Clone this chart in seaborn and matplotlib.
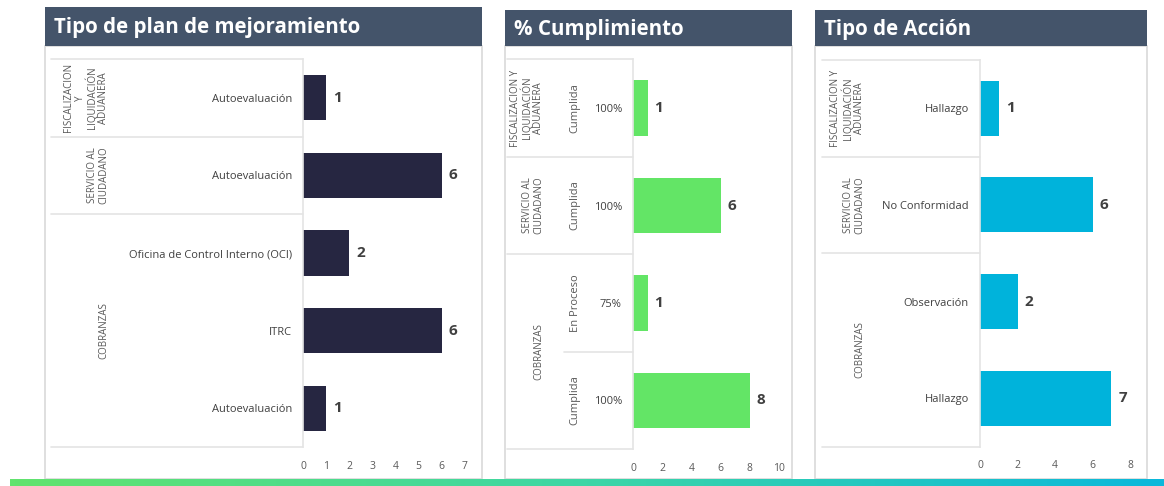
import numpy as np
import pandas as pd
import matplotlib
matplotlib.use("Agg")
import matplotlib.pyplot as plt
import seaborn as sns
from matplotlib.transforms import blended_transform_factory
from matplotlib.patches import Rectangle
from matplotlib.colors import LinearSegmentedColormap

# ---------------- data ----------------
FISC = "FISCALIZACION\nY\nLIQUIDACIÓN\nADUANERA"
FISC2 = "FISCALIZACION Y\nLIQUIDACIÓN\nADUANERA"
SERV = "SERVICIO AL\nCIUDADANO"
COBR = "COBRANZAS"

plan_groups = [FISC, SERV, COBR, COBR, COBR]
plan_cats = ["Autoevaluación", "Autoevaluación", "Oficina de Control Interno (OCI)", "ITRC", "Autoevaluación"]
plan_vals = [1, 6, 2, 6, 1]

cump_groups = [FISC2, SERV, COBR, COBR]
cump_estado = ["Cumplida", "Cumplida", "En Proceso", "Cumplida"]
cump_pct = ["100%", "100%", "75%", "100%"]
cump_vals = [1, 6, 1, 8]

acc_groups = [FISC2, SERV, COBR, COBR]
acc_cats = ["Hallazgo", "No Conformidad", "Observación", "Hallazgo"]
acc_vals = [1, 6, 2, 7]

titles = ["Tipo de plan de mejoramiento", "% Cumplimiento", "Tipo de Acción"]

# ---------------- style ----------------
W, H = 1164, 486
sns.set_theme(style="white")
plt.rcParams["font.family"] = ["Open Sans", "DejaVu Sans"]

HEADER = "#44546A"
BORDER = "#D9D9D9"
GRID = "#E4E4E4"
TXT = "#404040"
TXT2 = "#595959"

fig = plt.figure(figsize=(W / 100, H / 100), dpi=100)
fig.patch.set_facecolor("white")
bg = fig.add_axes([0, 0, 1, 1])
bg.set_xlim(0, W)
bg.set_ylim(H, 0)
bg.axis("off")


def px_axes(l, t, r, b):
    return fig.add_axes([l / W, 1 - b / H, (r - l) / W, (b - t) / H])


# cards
cards = [(45, 482, 7), (505, 792, 10), (815, 1147, 10)]
for (x0, x1, yt), title in zip(cards, titles):
    bg.add_patch(Rectangle((x0, 46), x1 - x0, 479 - 46, facecolor="white",
                           edgecolor=BORDER, lw=1.2))
    bg.add_patch(Rectangle((x0, yt), x1 - x0, 46 - yt, facecolor=HEADER,
                           edgecolor="none"))
    bg.text(x0 + 9, (yt + 46) / 2 + 1, title, color="white", fontsize=14.8,
            fontweight="bold", family=["Open Sans", "DejaVu Sans"],
            ha="left", va="center")

# bottom gradient strip
cmap = LinearSegmentedColormap.from_list("g", ["#62E36E", "#3DD6A6", "#0BB8DB"])
grad = np.linspace(0, 1, 256)[None, :]
bg.imshow(grad, extent=(10, W, 486, 479), aspect="auto", cmap=cmap, zorder=1)
bg.set_xlim(0, W)
bg.set_ylim(H, 0)


def panel(box, ticklabels, vals, color, xmax, xticks, width, table_left,
          groups, group_x, extra=None):
    l, t, r, b = box
    ax = px_axes(l, t, r, b)
    ax.set_facecolor("none")
    n = len(vals)
    df = pd.DataFrame({"pos": [str(i) for i in range(n)], "val": vals})
    sns.barplot(data=df, x="val", y="pos", order=list(df["pos"]), orient="h",
                color=color, saturation=1, width=width, linewidth=0, ax=ax)
    ax.set_xlim(0, xmax)
    ax.set_ylim(n - 0.5, -0.5)
    ax.set_xticks(xticks)
    ax.set_xticklabels([str(v) for v in xticks])
    ax.set_yticks(range(n))
    ax.set_yticklabels(ticklabels)
    ax.set_xlabel("")
    ax.set_ylabel("")
    ax.tick_params(axis="x", length=0, pad=10, labelsize=7.5, labelcolor=TXT2)
    ax.tick_params(axis="y", length=0, pad=8, labelsize=8, labelcolor=TXT)
    for s in ["top", "right", "bottom"]:
        ax.spines[s].set_visible(False)
    ax.spines["left"].set_color(GRID)
    ax.spines["left"].set_linewidth(1.2)
    for c in ax.containers:
        ax.bar_label(c, padding=5, fontsize=11, fontweight="bold", color=TXT,
                     family=["Open Sans", "DejaVu Sans"])

    trans = blended_transform_factory(bg.transData, ax.transData)
    bounds = [-0.5, n - 0.5]
    for i in range(1, n):
        if groups[i] != groups[i - 1]:
            bounds.append(i - 0.5)
    for yb in bounds:
        ax.plot([table_left, l], [yb, yb], transform=trans, clip_on=False,
                color=GRID, lw=1.2)
    start = 0
    for i in range(1, n + 1):
        if i == n or groups[i] != groups[start]:
            yc = (start + i - 1) / 2
            ax.text(group_x, yc, groups[start], transform=trans, rotation=90,
                    ha="right", va="center", ma="center", fontsize=7,
                    color=TXT2, linespacing=1.0)
            start = i
    if extra is not None:
        ex_labels, ex_x, ex_line_left = extra
        for i, lab in enumerate(ex_labels):
            ax.text(ex_x, i, lab, transform=trans, rotation=90, ha="center",
                    va="center", fontsize=8, color=TXT2)
        for i in range(1, n):
            if groups[i] == groups[i - 1]:
                ax.plot([ex_line_left, l], [i - 0.5, i - 0.5], transform=trans,
                        clip_on=False, color=GRID, lw=1.2)
    return ax


panel((303, 59, 465, 447), plan_cats, plan_vals, "#262641", 7, list(range(8)),
      0.58, 51, plan_groups, 109)
panel((633, 59.5, 779, 449), cump_pct, cump_vals, "#63E566", 10,
      [0, 2, 4, 6, 8, 10], 0.57, 507, cump_groups, 544,
      extra=(cump_estado, 575, 564))
panel((980, 60, 1130, 446.5), acc_cats, acc_vals, "#00B3DB", 8,
      [0, 2, 4, 6, 8], 0.57, 822, acc_groups, 865)

fig.savefig("out.png", dpi=100)
